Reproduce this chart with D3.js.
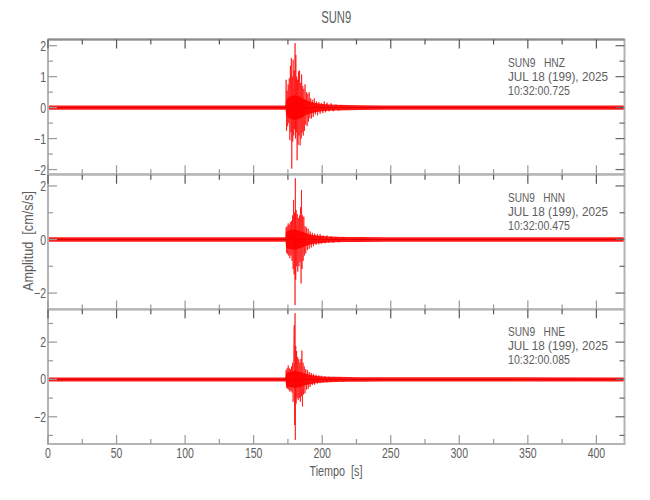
<!DOCTYPE html>
<html><head><meta charset="utf-8">
<script src="https://cdn.jsdelivr.net/npm/d3@7"></script>
<style>
html,body{margin:0;padding:0;background:#fff;}
text{font-family:"Liberation Sans",Arial,sans-serif;fill:#5e5e5e;}
</style></head>
<body>
<svg id="chart" width="650" height="500"></svg>
<script>
// ---------- DATA ----------
const title = "SUN9";
const station = "SUN9";
const channels = ["HNZ", "HNN", "HNE"];
const dateLine = "JUL 18 (199), 2025";
const startTimes = ["10:32:00.725", "10:32:00.475", "10:32:00.085"];
const xLabel = "Tiempo  [s]";
const yLabel = "Amplitud  [cm/s/s]";
const xDomain = [0, 420.5];
const xTickValues = [0, 50, 100, 150, 200, 250, 300, 350, 400];
const xMinorTicks = [25, 75, 125, 175, 225, 275, 325, 375];
const yDomains = [[-2.15, 2.2], [-2.61, 2.42], [-3.46, 3.76]];
const yTickValues = [[-2, -1, 0, 1, 2], [-2, 0, 2], [-2, 0, 2]];
const yMinorTicks = [[-1.5, -0.5, 0.5, 1.5], [-1, 1], [-3, -1, 1, 3]];

// noise envelope (time, upper, lower)
const envT = [0, 173.3, 173.8, 176, 180, 184, 188, 192, 196, 200, 205, 210, 218, 228, 245, 420.5];
const hnzEnvHi = [0.065, 0.065, 0.25, 0.35, 0.4, 0.35, 0.25, 0.18, 0.14, 0.12, 0.1, 0.09, 0.085, 0.08, 0.07, 0.065];
const hnzEnvLo = [-0.065, -0.065, -0.25, -0.35, -0.4, -0.35, -0.25, -0.18, -0.14, -0.12, -0.1, -0.09, -0.085, -0.08, -0.07, -0.065];
const hnnEnvHi = [0.08, 0.08, 0.3, 0.35, 0.38, 0.32, 0.24, 0.18, 0.15, 0.13, 0.11, 0.1, 0.095, 0.09, 0.085, 0.08];
const hnnEnvLo = [-0.08, -0.08, -0.3, -0.35, -0.38, -0.32, -0.24, -0.18, -0.15, -0.13, -0.11, -0.1, -0.095, -0.09, -0.085, -0.08];
const hneEnvHi = [0.11, 0.11, 0.35, 0.4, 0.45, 0.4, 0.3, 0.24, 0.19, 0.16, 0.15, 0.14, 0.13, 0.12, 0.115, 0.11];
const hneEnvLo = [-0.11, -0.11, -0.35, -0.4, -0.45, -0.4, -0.3, -0.24, -0.19, -0.16, -0.15, -0.14, -0.13, -0.12, -0.115, -0.11];

// burst peaks (time [s], amplitude [cm/s/s])
const hnzT = [173.4,173.7,174.0,174.4,174.8,175.2,175.6,176.0,176.4,176.8,177.2,177.5,177.8,178.2,178.5,178.8,179.2,179.6,179.9,180.2,180.5,180.8,181.1,181.4,181.7,182.0,182.4,182.7,183.1,183.5,183.9,184.3,184.7,185.0,185.4,185.8,186.2,186.6,187.0,187.5,188.0,188.5,189.0,189.5,190.0,190.5,191.0,191.6,192.2,192.8,193.5,194.2,195.0,195.8,196.6,197.5,198.5,199.5,200.5,201.5,202.5,203.5,205,206.5,208,210,212,214,216,218];
const hnzV = [0.02,0.9,-0.75,0.55,-0.6,0.75,-0.5,0.95,-1.05,1.35,-0.8,1.6,-1.97,1.0,-1.1,1.55,-0.9,1.2,-0.7,2.08,-1.0,1.7,-0.8,1.0,-1.7,0.9,-1.2,1.17,-0.9,1.2,-1.22,0.8,-1.0,1.07,-0.8,0.7,-0.9,0.6,-0.75,0.75,-0.55,0.5,-0.6,0.45,-0.45,0.5,-0.35,0.3,-0.35,0.25,-0.3,0.3,-0.22,0.2,-0.25,0.18,-0.2,0.15,-0.18,0.2,-0.15,0.16,-0.12,0.14,-0.12,0.1,-0.1,0.08,-0.06,0.0];
const hnnT = [173.4,173.7,174.0,174.4,174.8,175.2,175.6,176.0,176.4,176.8,177.2,177.6,178.0,178.4,178.8,179.1,179.5,179.9,180.2,180.4,180.7,181.0,181.4,181.8,182.2,182.6,183.0,183.4,183.8,184.2,184.6,184.9,185.3,185.7,186.1,186.6,187.0,187.5,188.0,188.6,189.2,189.8,190.5,191.2,192.0,192.8,193.6,194.5,195.5,196.5,197.5,198.5,199.5,200.5,202,203.5,205,206.5,208,210,212,215,218];
const hnnV = [0.0,0.45,-0.5,0.5,-0.55,0.6,-0.6,0.55,-0.7,0.65,-0.6,0.7,-0.8,0.9,-1.1,1.48,-1.3,1.0,-2.45,2.29,-1.5,1.1,-1.0,0.95,-1.2,0.8,-1.0,0.9,-0.85,1.2,-1.64,1.85,-1.1,0.9,-0.8,0.85,-0.6,0.5,-0.52,0.45,-0.4,0.4,-0.35,0.3,-0.3,0.25,-0.25,0.22,-0.2,0.2,-0.18,0.2,-0.16,0.15,-0.14,0.15,-0.12,0.13,-0.12,0.1,-0.1,0.08,0.0];
const hneT = [173.4,173.7,174.0,174.4,174.8,175.2,175.6,176.0,176.4,176.8,177.2,177.6,178.0,178.4,178.8,179.2,179.6,179.9,180.2,180.4,180.7,181.0,181.3,181.7,182.1,182.5,182.9,183.3,183.7,184.1,184.5,184.9,185.2,185.6,186.0,186.4,186.9,187.4,188.0,188.6,189.2,189.8,190.5,191.2,192.0,192.8,193.6,194.5,195.5,196.5,197.5,198.5,199.5,200.5,202,203.5,205,206.5,208,210,212,215,218];
const hneV = [0.0,0.5,-0.45,0.6,-0.5,0.75,-0.55,0.6,-0.65,0.55,-0.6,0.7,-0.7,0.9,-1.2,1.3,2.9,-2.44,3.55,-3.24,1.8,-1.3,1.52,-1.0,1.2,-1.1,1.08,-1.0,0.9,-1.2,1.1,-0.9,1.55,-1.45,0.9,-0.8,0.7,-0.75,0.55,-0.55,0.5,-0.5,0.4,-0.4,0.35,-0.3,0.3,-0.28,0.25,-0.22,0.22,-0.2,0.2,-0.18,0.17,-0.15,0.15,-0.13,0.12,-0.1,0.1,-0.08,0.0];

// ---------- LAYOUT ----------
const svg = d3.select("#chart");
const left = 48, right = 624.5;
const panelTops = [39.5, 174.7, 309.3];
const panelH = 134.7;
const red = "#ff0000";

const x = d3.scaleLinear().domain(xDomain).range([left, right]);

function condense(sel, factor) {
  sel.each(function() {
    const w = this.getComputedTextLength();
    d3.select(this).attr("textLength", w * factor).attr("lengthAdjust", "spacingAndGlyphs");
  });
}
function fixWidth(sel, w) {
  sel.attr("textLength", w).attr("lengthAdjust", "spacingAndGlyphs");
}

const envs = [[hnzEnvHi, hnzEnvLo], [hnnEnvHi, hnnEnvLo], [hneEnvHi, hneEnvLo]];
const bursts = [[hnzT, hnzV], [hnnT, hnnV], [hneT, hneV]];

svg.append("defs").append("clipPath").attr("id", "clipAll")
  .append("rect").attr("x", left).attr("y", panelTops[0]).attr("width", right - left).attr("height", panelH * 3 + 1);

panelTops.forEach((top, i) => {
  const y = d3.scaleLinear().domain(yDomains[i]).range([top + panelH, top]);
  const g = svg.append("g");
  const traces = g.append("g").attr("clip-path", "url(#clipAll)");

  const envData = envT.map((t, k) => ({t, hi: envs[i][0][k], lo: envs[i][1][k]}));
  traces.append("path").datum(envData)
    .attr("d", d3.area().x(d => x(d.t)).y0(d => y(d.lo)).y1(d => y(d.hi)))
    .attr("fill", red).attr("fill-opacity", 0.9);
  traces.append("line").attr("x1", left).attr("x2", right)
    .attr("y1", y(0)).attr("y2", y(0)).attr("stroke", "#e00000").attr("stroke-width", 1);
  const bData = bursts[i][0].map((t, k) => ({t, v: bursts[i][1][k]}));
  traces.append("path").datum(bData)
    .attr("d", d3.line().x(d => x(d.t)).y(d => y(d.v)))
    .attr("fill", "none").attr("stroke", red).attr("stroke-width", 0.9).attr("stroke-opacity", 0.75);

  g.append("rect").attr("x", left).attr("y", top).attr("width", right - left).attr("height", panelH)
    .attr("fill", "none").attr("stroke", "#b4b4b4").attr("stroke-width", 2);
  if (i === 0) {
    g.append("line").attr("x1", left).attr("x2", right).attr("y1", top).attr("y2", top)
      .attr("stroke", "#8c8c8c").attr("stroke-width", 2);
  }

  const xt = xTickValues.map(v => ({v, len: 9})).concat(xMinorTicks.map(v => ({v, len: 5})));
  g.selectAll(".xtTop").data(xt).enter().append("line")
    .attr("x1", d => x(d.v)).attr("x2", d => x(d.v))
    .attr("y1", top).attr("y2", d => top + d.len)
    .attr("stroke", "#555").attr("stroke-width", 1.2);
  g.selectAll(".xtBot").data(xt).enter().append("line")
    .attr("x1", d => x(d.v)).attr("x2", d => x(d.v))
    .attr("y1", top + panelH).attr("y2", d => top + panelH - d.len)
    .attr("stroke", "#999").attr("stroke-width", 1.2);

  const yt = yTickValues[i].map(v => ({v, len: 9})).concat(yMinorTicks[i].map(v => ({v, len: 5})));
  g.selectAll(".ytL").data(yt).enter().append("line")
    .attr("x1", left).attr("x2", d => left + d.len)
    .attr("y1", d => y(d.v)).attr("y2", d => y(d.v))
    .attr("stroke", "#999").attr("stroke-width", 1.2);
  g.selectAll(".ytR").data(yt).enter().append("line")
    .attr("x1", right).attr("x2", d => right - d.len)
    .attr("y1", d => y(d.v)).attr("y2", d => y(d.v))
    .attr("stroke", "#666").attr("stroke-width", 1.2);

  const fmt = d3.format("d");
  g.selectAll(".ylab").data(yTickValues[i]).enter().append("text")
    .attr("x", left - 2).attr("y", d => y(d)).attr("dy", "0.36em")
    .attr("text-anchor", "end").attr("font-size", 14)
    .text(d => fmt(d))
    .call(condense, 0.75);

  const lines = [station + "   " + channels[i], dateLine, startTimes[i]];
  const widths = [57, 100, 62];
  lines.forEach((s, k) => {
    g.append("text").attr("x", 508).attr("y", top + 27 + k * 14)
      .attr("font-size", 12.5).style("white-space", "pre")
      .text(s).call(fixWidth, widths[k]);
  });

  if (i === 2) {
    g.selectAll(".xlab").data(xTickValues).enter().append("text")
      .attr("x", d => x(d)).attr("y", top + panelH + 14)
      .attr("text-anchor", "middle").attr("font-size", 14)
      .text(d => d)
      .call(condense, 0.75);
  }
});

svg.append("text").attr("x", (left + right) / 2).attr("y", 23)
  .attr("text-anchor", "middle").attr("font-size", 16).text(title).call(fixWidth, 30);
svg.append("text").attr("x", 336).attr("y", 476)
  .attr("text-anchor", "middle").attr("font-size", 14).style("white-space", "pre").text(xLabel).call(fixWidth, 53);
svg.append("text").attr("transform", "translate(33,241) rotate(-90)")
  .attr("text-anchor", "middle").attr("font-size", 14).style("white-space", "pre").text(yLabel).call(fixWidth, 100);
</script>
</body></html>
